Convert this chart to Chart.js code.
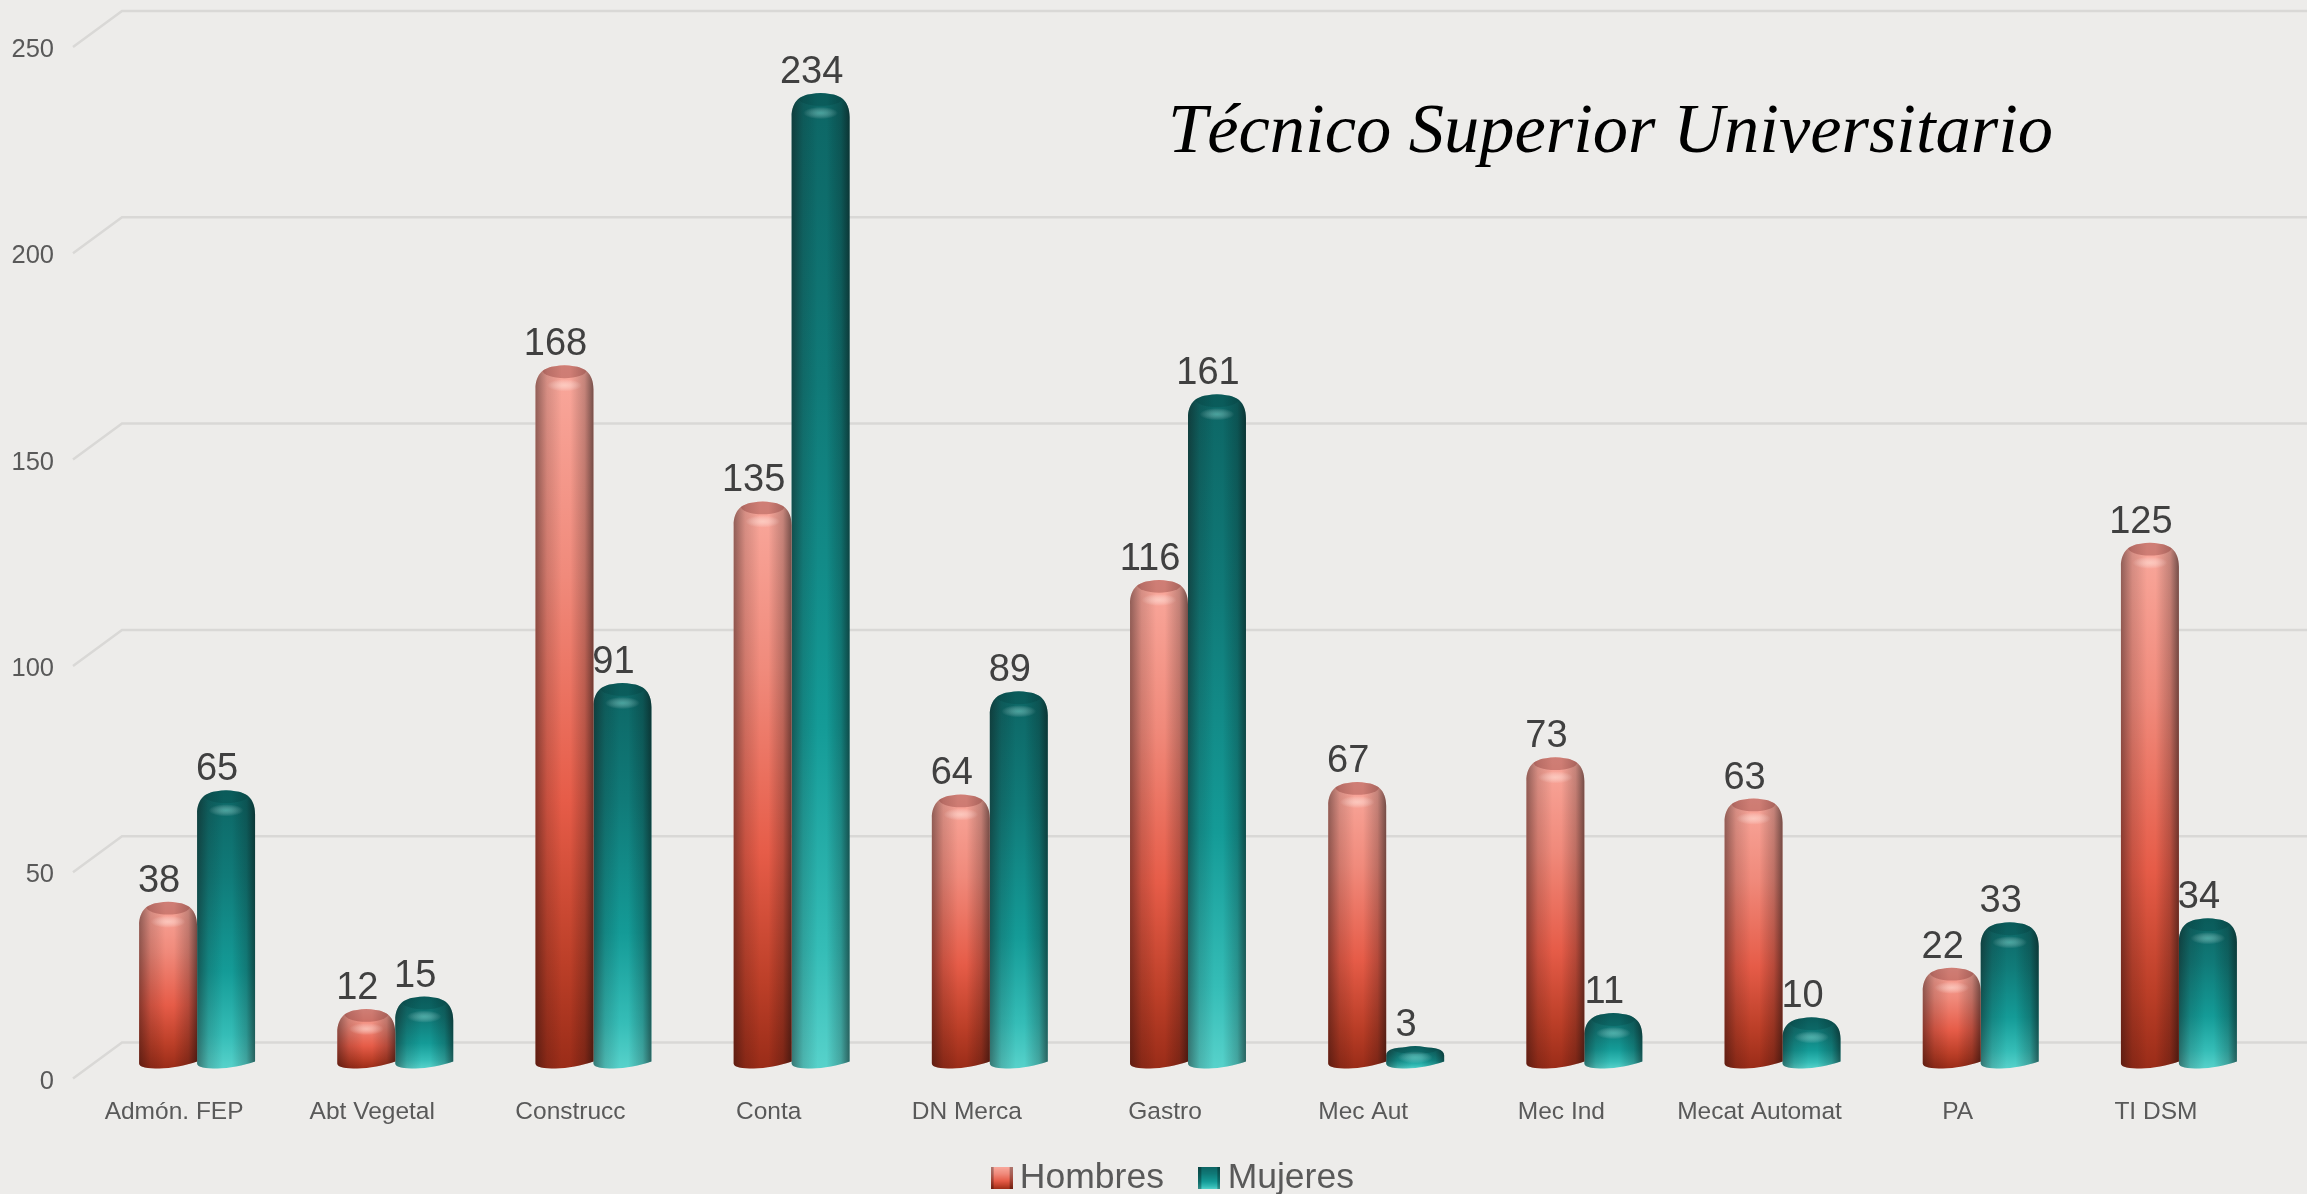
<!DOCTYPE html>
<html>
<head>
<meta charset="utf-8">
<title>Técnico Superior Universitario</title>
<script src="https://cdn.jsdelivr.net/npm/chart.js@4/dist/chart.umd.js"></script>
<style>
  html, body { margin: 0; padding: 0; background: #edecea; }
  #wrap { width: 2307px; height: 1194px; }
</style>
</head>
<body>
<div id="wrap"><canvas id="chart" width="2307" height="1194"></canvas></div>
<script>
const categories = ['Admón. FEP', 'Abt Vegetal', 'Construcc', 'Conta', 'DN Merca', 'Gastro', 'Mec Aut', 'Mec Ind', 'Mecat Automat', 'PA', 'TI DSM'];
const hombres = [38, 12, 168, 135, 64, 116, 67, 73, 63, 22, 125];
const mujeres = [65, 15, 91, 234, 89, 161, 3, 11, 10, 33, 34];
const chartTitle = 'Técnico Superior Universitario';

const TEXT_FONT = '"Liberation Sans", Arial, sans-serif';

// vertical colour ramps for the two cylinders
const ramps = {
  Hombres: [[0, '#f9a89c'], [0.3, '#f08a7b'], [0.62, '#e65c48'], [0.85, '#bc3f28'], [1, '#9a2c18']],
  Mujeres: [[0, '#0d6665'], [0.3, '#107a78'], [0.65, '#149b97'], [0.88, '#35bdb7'], [1, '#57d2cb']]
};
const capTint = { Hombres: 'rgba(130,50,45,0.35)', Mujeres: 'rgba(0,50,50,0.2)' };

function cylinderPath(ctx, left, right, top, base) {
  const w = right - left;
  const h = base - top;
  const ry = Math.min(24, h * 0.42);
  const rx = w * 0.34;
  ctx.beginPath();
  ctx.moveTo(left, base - 5);
  ctx.lineTo(left, top + ry);
  ctx.bezierCurveTo(left, top + ry * 0.3, left + rx * 0.5, top + 2, left + rx, top + 1);
  ctx.quadraticCurveTo(left + w * 0.5, top - 1, right - rx, top + 1);
  ctx.bezierCurveTo(right - rx * 0.5, top + 2, right, top + ry * 0.3, right, top + ry);
  ctx.lineTo(right, base - 7);
  ctx.bezierCurveTo(right - w * 0.2, base - 3, left + w * 0.55, base, left + w * 0.35, base);
  ctx.bezierCurveTo(left + w * 0.15, base, left, base - 1, left, base - 5);
  ctx.closePath();
}

function drawCylinder(ctx, bar, name) {
  const left = bar.x - bar.width / 2;
  const right = bar.x + bar.width / 2;
  const top = bar.y - 10;
  const base = bar.base;
  const w = right - left;
  const h = base - top;

  ctx.save();
  cylinderPath(ctx, left, right, top, base);
  ctx.clip();

  const g = ctx.createLinearGradient(0, top, 0, base);
  ramps[name].forEach(s => g.addColorStop(s[0], s[1]));
  ctx.fillStyle = g;
  ctx.fillRect(left - 2, top - 4, w + 4, h + 10);

  // round side shading
  const side = ctx.createLinearGradient(left, 0, right, 0);
  side.addColorStop(0, 'rgba(20,10,10,0.45)');
  side.addColorStop(0.2, 'rgba(20,10,10,0.15)');
  side.addColorStop(0.45, 'rgba(0,0,0,0)');
  side.addColorStop(0.6, 'rgba(0,0,0,0)');
  side.addColorStop(0.85, 'rgba(10,10,10,0.22)');
  side.addColorStop(1, 'rgba(10,10,10,0.55)');
  ctx.fillStyle = side;
  ctx.fillRect(left - 2, top - 4, w + 4, h + 10);

  // darker lid at the top with a soft highlight under it
  const ry = Math.min(8, h * 0.22);
  ctx.fillStyle = capTint[name];
  ctx.beginPath();
  ctx.ellipse(bar.x, top + ry * 0.6, w * 0.38, ry, 0, 0, Math.PI * 2);
  ctx.fill();

  const hy = top + Math.min(20, h * 0.5);
  const hl = ctx.createRadialGradient(bar.x, hy, 0, bar.x, hy, w * 0.3);
  hl.addColorStop(0, name === 'Hombres' ? 'rgba(255,225,215,0.6)' : 'rgba(130,220,210,0.5)');
  hl.addColorStop(1, 'rgba(255,255,255,0)');
  ctx.save();
  ctx.translate(0, hy);
  ctx.scale(1, 0.35);
  ctx.translate(0, -hy);
  ctx.fillStyle = hl;
  ctx.fillRect(left, hy - w, w, w * 2);
  ctx.restore();

  ctx.restore();
}

const cylinderPlugin = {
  id: 'cylinders',
  // the legend sits off centre and closer to the axis in the original
  afterLayout(chart) {
    chart.legend.left += 50;
    chart.legend.right += 50;
    chart.legend.top -= 23;
    chart.legend.bottom -= 23;
  },
  // back wall and its slanted ties, behind the bars
  beforeDatasetsDraw(chart) {
    const ctx = chart.ctx;
    const y = chart.scales.y;
    const x0 = chart.chartArea.left;
    ctx.save();
    ctx.strokeStyle = '#d9d8d6';
    ctx.lineWidth = 2.5;
    y.ticks.forEach(t => {
      const py = y.getPixelForValue(t.value);
      ctx.beginPath();
      ctx.moveTo(x0 - 2, py);
      ctx.lineTo(x0 + 47, py - 36);
      ctx.lineTo(chart.width, py - 36);
      ctx.stroke();
    });
    ctx.restore();
  },
  beforeDatasetDraw(chart, args) {
    const ctx = chart.ctx;
    const meta = chart.getDatasetMeta(args.index);
    const name = chart.data.datasets[args.index].label;
    ctx.save();
    ctx.translate(23, -10);
    meta.data.forEach(bar => drawCylinder(ctx, bar, name));
    ctx.restore();
    return false;
  },
  afterDatasetsDraw(chart) {
    const ctx = chart.ctx;
    ctx.save();
    ctx.fillStyle = '#404040';
    ctx.font = '38px ' + TEXT_FONT;
    ctx.textAlign = 'center';
    ctx.textBaseline = 'alphabetic';
    chart.data.datasets.forEach((ds, i) => {
      chart.getDatasetMeta(i).data.forEach((bar, j) => {
        ctx.fillText(ds.data[j], bar.x + 23 - 9, bar.y - 10 - 20);
      });
    });
    ctx.fillStyle = '#000000';
    ctx.font = 'italic 70.5px "Liberation Serif", serif';
    ctx.textAlign = 'left';
    ctx.fillText(chartTitle, 1168, 152);
    ctx.restore();
  }
};

function legendSwatch(ramp) {
  const c = document.createElement('canvas');
  c.width = 22;
  c.height = 22;
  const s = c.getContext('2d');
  const g = s.createLinearGradient(0, 0, 0, 22);
  ramp.forEach(r => g.addColorStop(r[0], r[1]));
  s.fillStyle = g;
  s.fillRect(0, 0, 22, 22);
  s.fillStyle = 'rgba(0,0,0,0.3)';
  s.fillRect(0, 0, 3, 22);
  s.fillRect(19, 0, 3, 22);
  return c;
}

new Chart(document.getElementById('chart'), {
  type: 'bar',
  data: {
    labels: categories,
    datasets: [
      { label: 'Hombres', data: hombres, backgroundColor: '#e65c48', pointStyle: legendSwatch(ramps.Hombres), clip: false },
      { label: 'Mujeres', data: mujeres, backgroundColor: '#149b97', pointStyle: legendSwatch(ramps.Mujeres), clip: false }
    ]
  },
  options: {
    responsive: false,
    animation: false,
    // legend padding is large for the item gap, so let it run past the bottom edge
    layout: { padding: { top: 47, right: 52, bottom: -35, left: 0 } },
    datasets: { bar: { categoryPercentage: 0.585, barPercentage: 1 } },
    scales: {
      x: {
        grid: { display: false },
        border: { display: false },
        ticks: { color: '#595959', font: { family: TEXT_FONT, size: 24.5 }, padding: 11, maxRotation: 0, autoSkip: false },
        afterFit: s => { s.height = 60; }
      },
      y: {
        min: 0,
        max: 250,
        grid: { display: false },
        border: { display: false },
        ticks: { stepSize: 50, color: '#595959', font: { family: TEXT_FONT, size: 25.5 }, padding: 13, labelOffset: 3 },
        afterFit: s => { s.width = 75; }
      }
    },
    plugins: {
      title: { display: false },
      tooltip: { enabled: false },
      legend: {
        position: 'bottom',
        labels: {
          color: '#595959',
          font: { family: TEXT_FONT, size: 35.5 },
          usePointStyle: true,
          pointStyleWidth: 1,
          padding: 45
        }
      }
    }
  },
  plugins: [cylinderPlugin]
});
</script>
</body>
</html>
